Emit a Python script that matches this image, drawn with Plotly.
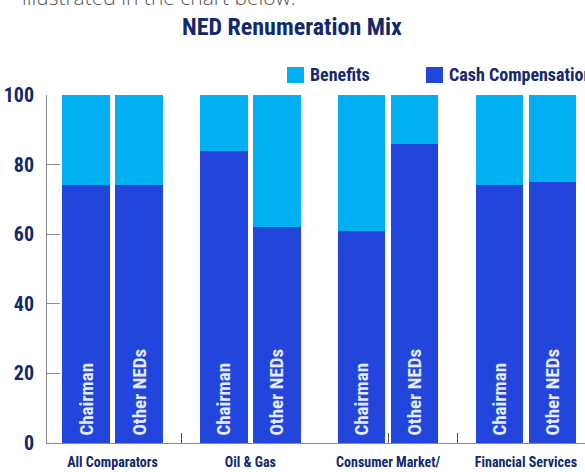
import plotly.graph_objects as go

# NED remuneration mix (% of total pay)
sectors = ["All Comparators", "Oil & Gas", "Consumer Market/<br>Retail", "Financial Services"]
roles = ["Chairman", "Other NEDs"]
cash_compensation = [74, 74, 84, 62, 61, 86, 74, 75]
benefits = [26, 26, 16, 38, 39, 14, 26, 25]
y_ticks = [0, 20, 40, 60, 80, 100]

CASH = "#2246DC"
BENEFIT = "#00B0F0"
NAVY = "#12296B"
AXIS = "#8C8C8C"
COND = "Roboto Condensed, DejaVu Sans, sans-serif"

# plot-area geometry (pixels) used to place the header items in paper space
L, R, T, B = 47, 585, 95, 443


def paper_x(px):
    return (px - L) / (R - L)


def paper_y(py):
    return (B - py) / (B - T)


GROUP_STEP = 2.6  # spacing between sector groups, in bar units
x_pos, bar_roles = [], []
for g in range(len(sectors)):
    for r, role in enumerate(roles):
        x_pos.append(g * GROUP_STEP + r)
        # a little breathing room between the label and the baseline
        bar_roles.append("\u00a0" + role)
sector_centres = [g * GROUP_STEP + 0.5 for g in range(len(sectors))]
dividers = [GROUP_STEP - 0.79, 2 * GROUP_STEP + 0.5, 3 * GROUP_STEP - 0.79]

fig = go.Figure()
fig.add_trace(go.Bar(
    x=x_pos, y=cash_compensation, name="Cash Compensation",
    marker=dict(color=CASH, line=dict(width=0)), width=0.9,
    text=bar_roles, textposition="inside", insidetextanchor="start",
    textangle=-90,
    textfont=dict(family=COND, size=19, color="#E6ECFF", weight=700),
    hoverinfo="skip",
))
fig.add_trace(go.Bar(
    x=x_pos, y=benefits, name="Benefits",
    marker=dict(color=BENEFIT, line=dict(width=0)), width=0.9,
    hoverinfo="skip",
))

fig.update_layout(
    width=585, height=472,
    barmode="stack",
    plot_bgcolor="white", paper_bgcolor="white",
    margin=dict(l=L, r=585 - R, t=T, b=472 - B),
    title=dict(text="NED Renumeration Mix", x=0.499, xanchor="center",
               y=0.943, yanchor="middle",
               font=dict(family=COND, size=24, color=NAVY, weight=700)),
    showlegend=False,
    font=dict(family=COND, color=NAVY),
)

fig.update_xaxes(
    range=[-0.736, 9.415], automargin=False,
    tickmode="array", tickvals=sector_centres, ticktext=sectors, tickangle=0,
    ticks="", showgrid=False, zeroline=False,
    showline=True, linecolor=AXIS, linewidth=1,
    tickfont=dict(family=COND, size=14, color=NAVY, weight=700),
    ticklabelstandoff=6,
    minor=dict(tickmode="array", tickvals=dividers, ticks="inside",
               ticklen=10, tickcolor="#555555", tickwidth=1),
)
fig.update_yaxes(
    range=[0, 100], automargin=False, tickmode="array", tickvals=y_ticks,
    ticks="inside", ticklen=13, tickcolor=AXIS, tickwidth=1,
    showgrid=False, zeroline=False,
    showline=True, linecolor=AXIS, linewidth=1,
    tickfont=dict(family=COND, size=20, color=NAVY, weight=700),
    ticklabelstandoff=8,
)

# legend row: colour keys with their series names
for key_left, colour, label in [(287, BENEFIT, "Benefits"), (426, CASH, "Cash Compensation")]:
    fig.add_shape(type="rect", xref="paper", yref="paper",
                  x0=paper_x(key_left), x1=paper_x(key_left + 17),
                  y0=paper_y(83), y1=paper_y(67),
                  fillcolor=colour, line=dict(width=0))
    fig.add_annotation(text=label, xref="paper", yref="paper",
                       x=paper_x(key_left + 21), y=paper_y(75),
                       xanchor="left", yanchor="middle", showarrow=False,
                       font=dict(family=COND, size=18, color=NAVY, weight=700))

# lead-in sentence from the surrounding article text
fig.add_annotation(
    text="illustrated in the chart below:", xref="paper", yref="paper",
    x=paper_x(20), y=paper_y(-3), xanchor="left", yanchor="middle",
    showarrow=False, font=dict(family="Open Sans", size=21, color="#555555", weight=300),
)

fig.write_html("out.html")
